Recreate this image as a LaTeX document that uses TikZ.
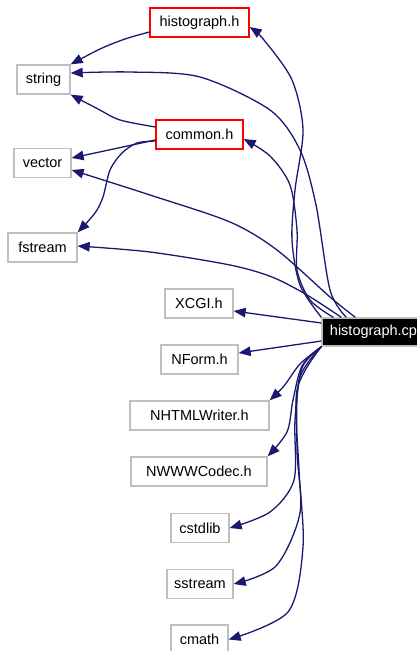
\documentclass[tikz,border=0pt]{standalone}
\usepackage{fontspec}
\setmainfont{Liberation Sans}
\usetikzlibrary{arrows.meta}
\definecolor{edgeblue}{RGB}{25,25,112}
\definecolor{boxgray}{RGB}{191,191,191}
\begin{document}
\begin{tikzpicture}[x=1pt,y=-1pt,
  box/.style={draw=boxgray, line width=1.3pt, fill=white, minimum height=29pt, inner sep=0pt, font=\fontsize{14.5}{17}\selectfont},
  redbox/.style={box, draw=red},
  cppbox/.style={box, draw=boxgray, fill=black, text=white, minimum height=28pt},
  dep/.style={draw=edgeblue, line width=1.3pt, -{Triangle[length=12pt,width=9.5pt]}},
]
\useasboundingbox (0,0) rectangle (417,651);
\clip (0,0) rectangle (417,651);
% nodes
\node[redbox, minimum width=99pt] (hh) at (199.5,22.5) {histograph.h};
\node[box, minimum width=53pt] (str) at (43.5,79.5) {string};
\node[redbox, minimum width=87pt] (com) at (199.5,134.5) {common.h};
\node[box, minimum width=57pt] (vec) at (42.5,163) {vector};
\node[box, minimum width=69pt] (fst) at (42.5,247.5) {fstream};
\node[box, minimum width=68pt] (xcgi) at (199,303.5) {XCGI.h};
\node[box, minimum width=77pt] (nform) at (199.5,359.5) {NForm.h};
\node[cppbox, minimum width=111pt] (cpp) at (377.5,332) {histograph.cpp};
\node[box, minimum width=139pt] (nhtml) at (199.5,415.5) {NHTMLWriter.h};
\node[box, minimum width=136pt] (nwww) at (199,471.5) {NWWWCodec.h};
\node[box, minimum width=58pt] (cstd) at (200,528) {cstdlib};
\node[box, minimum width=66pt] (sstr) at (200,584) {sstream};
\node[box, minimum width=57pt] (cmath) at (199.5,639.5) {cmath};
% edges from histograph.cpp
\draw[dep] plot[smooth] coordinates {(cpp.north west) (300,285) (292,240) (295,190) (303,130) (292,80) (264,40) ([yshift=-4.5pt]hh.east)};
\draw[dep] plot[smooth] coordinates {([xshift=25pt]cpp.north west) (330,290) (316,205) (300,150) (270,110) (200,77) (130,72) ([yshift=6.5pt]str.east)};
\draw[dep] plot[smooth] coordinates {([xshift=12pt]cpp.north west) (310,300) (297,270) (297,230) (290,185) (270,156) ([yshift=-4.5pt]com.east)};
\draw[dep] plot[smooth] coordinates {([xshift=34pt]cpp.north west) (330,297) (277,250) (230,222) (150,195) ([yshift=-7pt]vec.east)};
\draw[dep] plot[smooth] coordinates {([xshift=20pt]cpp.north west) (307,295) (272,277) (230,265) (150,252) ([yshift=1.5pt]fst.east)};
\draw[dep] ([yshift=9pt]cpp.west) -- ([yshift=-7.5pt]xcgi.east);
\draw[dep] ([yshift=-9pt]cpp.west) -- ([yshift=6.5pt]nform.east);
\draw[dep] plot[smooth] coordinates {(cpp.south west) (300,364) (284,386) (nhtml.north east)};
\draw[dep] plot[smooth] coordinates {(cpp.south west) (302,366) (293,400) (287,432) (nwww.north east)};
\draw[dep] plot[smooth] coordinates {(cpp.south west) (302,368) (295,420) (294,480) (270,512) (cstd.east)};
\draw[dep] plot[smooth] coordinates {(cpp.south west) (299,380) (297,450) (300,513) (276,566) (sstr.east)};
\draw[dep] plot[smooth] coordinates {(cpp.south west) (297,390) (299,470) (303,547) (288,612) (cmath.east)};
% edges from headers
\draw[dep] plot[smooth] coordinates {([yshift=-9.5pt]hh.west) (125,39) (100,49) (str.north east)};
\draw[dep] plot[smooth] coordinates {([yshift=7.5pt]com.west) (120,120) (98,109) (str.south east)};
\draw[dep] ([yshift=-5.5pt]com.west) -- ([yshift=5pt]vec.east);
\draw[dep] plot[smooth] coordinates {([yshift=-6.5pt]com.west) (137,143) (122,153) (110,170) (103,197) (95,213) (fst.north east)};
\end{tikzpicture}
\end{document}
